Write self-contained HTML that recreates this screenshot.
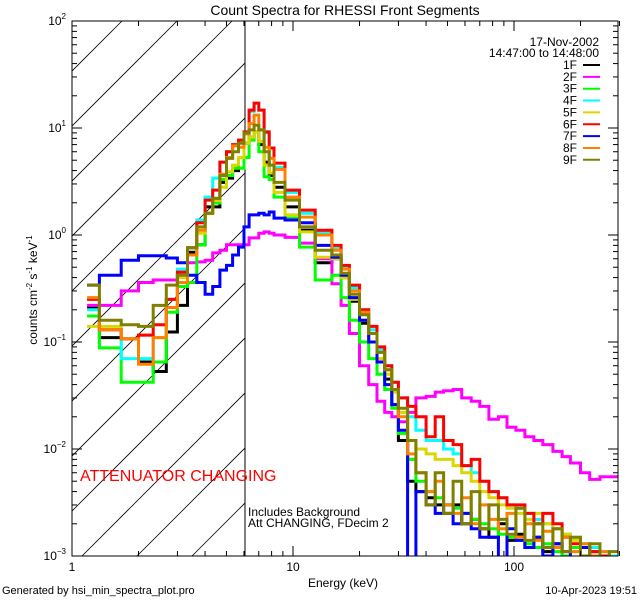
<!DOCTYPE html>
<html><head><meta charset="utf-8"><style>
html,body{margin:0;padding:0;background:#fff;}
svg text{font-family:"Liberation Sans",sans-serif;}
</style></head><body>
<svg id="chart" width="640" height="600" viewBox="0 0 640 600">
<defs><clipPath id="plotclip"><rect x="72" y="21" width="546" height="535"/></clipPath>
<clipPath id="hatchclip"><rect x="72" y="21" width="173" height="535"/></clipPath></defs>
<rect x="0" y="0" width="640" height="600" fill="#fff"/>
<text x="345" y="15" font-size="14" text-anchor="middle">Count Spectra for RHESSI Front Segments</text>
<g id="hatch" clip-path="url(#hatchclip)"></g>
<line x1="245" y1="21" x2="245" y2="556" stroke="#000" stroke-width="1"/>
<g id="series" clip-path="url(#plotclip)"></g>
<rect x="72" y="21" width="546" height="535" fill="none" stroke="#000" stroke-width="1"/>
<g id="axes"></g>
<text transform="translate(37,290) rotate(-90)" font-size="12" text-anchor="middle">counts cm<tspan font-size="8" dy="-5">-2</tspan><tspan dy="5"> s</tspan><tspan font-size="8" dy="-5">-1</tspan><tspan dy="5"> keV</tspan><tspan font-size="8" dy="-5">-1</tspan></text>
<text x="343" y="587" font-size="12" text-anchor="middle">Energy (keV)</text>
<text x="80" y="481" font-size="16" fill="#ff0000">ATTENUATOR CHANGING</text>
<text x="248" y="516" font-size="12">Includes Background</text>
<text x="248" y="527" font-size="12">Att CHANGING, FDecim 2</text>
<text x="599" y="46" font-size="12" text-anchor="end">17-Nov-2002</text>
<text x="599" y="57" font-size="12" text-anchor="end">14:47:00 to 14:48:00</text>
<g id="legend"></g>
<text x="2" y="594" font-size="11">Generated by hsi_min_spectra_plot.pro</text>
<text x="637" y="594" font-size="11" text-anchor="end">10-Apr-2023 19:51</text>
</svg>
<script>
const edges = [1.17,1.33,1.67,2.0,2.33,2.67,3.0,3.33,3.67,4.0,4.33,4.67,5.0,5.33,5.67,6.0,6.33,6.67,7.0,7.4,7.8,8.2,9.2,10.7,12.6,15,16.5,18,20,22,24,26,28,30,33,36,40,44,48,53,58,64,70,77,85,93,102,112,123,135,150,165,180,200,220,245,270,300];
const seriesNames = ["1F","2F","3F","4F","5F","6F","7F","8F","9F"];
const seriesColors = ["#000000","#ff00ff","#00ff00","#00ffff","#d8d800","#ff0000","#0000ff","#ff8000","#808000"];
const s1F = [0.21,0.11,0.107,0.065,0.053,0.124,0.22,0.69,0.81,1.83,1.83,3.1,3.4,4.0,5.3,7.2,8.2,9.2,7.0,4.8,3.6,2.8,1.83,1.11,0.55,
 0.6,0.4,0.24,0.15,0.1,0.065,0.045,0.026,0.012,0.005,0.004,0.0035,0.003,0.0025,0.003,0.002,0.0022,0.0018,0.0015,0.002,0.0014,0.0016,0.0012,0.0015,0.0011,0.0013,0.001,0.0012,0.0009,0.0011,0.0009,0.0008];
const s2F = [0.22,0.22,0.30,0.36,0.38,0.38,0.42,0.55,0.56,0.58,0.68,0.72,0.81,0.81,0.81,0.81,0.94,0.94,1.04,1.07,1.04,1.0,0.95,0.84,0.6,
 0.35,0.22,0.12,0.06,0.04,0.028,0.022,0.02,0.018,0.022,0.03,0.031,0.034,0.035,0.036,0.03,0.028,0.025,0.019,0.02,0.016,0.015,0.013,0.012,0.011,0.0095,0.0085,0.0074,0.006,0.0052,0.0055,0.0055];
const s3F = [0.175,0.088,0.042,0.042,0.065,0.19,0.33,0.36,0.81,1.6,1.99,3.3,3.6,4.2,4.2,5.3,7.7,9.2,6.0,3.5,3.3,2.26,1.44,0.77,0.38,
 0.42,0.26,0.16,0.1,0.07,0.05,0.036,0.024,0.014,0.008,0.005,0.004,0.0035,0.003,0.0028,0.0025,0.0022,0.002,0.0018,0.0016,0.0015,0.0014,0.0013,0.0012,0.0013,0.0011,0.001,0.0012,0.001,0.0009,0.0009,0.0008];
const s4F = [0.20,0.13,0.07,0.07,0.11,0.25,0.48,0.76,1.38,2.26,3.4,4.8,6.0,7.0,7.7,9.0,14.3,17.1,14.7,9.0,6.5,4.3,2.5,1.6,1.05,
 0.75,0.5,0.32,0.2,0.13,0.085,0.06,0.042,0.03,0.02,0.015,0.012,0.012,0.01,0.009,0.007,0.006,0.005,0.004,0.0035,0.003,0.0028,0.0025,0.0022,0.002,0.0018,0.0016,0.0015,0.0013,0.0012,0.0011,0.001];
const s5F = [0.14,0.14,0.107,0.116,0.11,0.21,0.40,0.65,1.04,1.6,2.1,2.8,3.9,4.5,5.3,7.2,8.2,9.2,7.5,4.5,3.8,2.5,1.54,1.07,0.62,
 0.6,0.4,0.25,0.16,0.1,0.07,0.05,0.034,0.022,0.012,0.01,0.009,0.008,0.008,0.007,0.006,0.005,0.004,0.0035,0.003,0.0028,0.0025,0.0022,0.0025,0.002,0.0018,0.0016,0.0014,0.0012,0.0011,0.001,0.0009];
const s6F = [0.25,0.13,0.107,0.116,0.145,0.25,0.45,0.76,1.3,2.12,2.63,4.8,6.0,7.0,7.7,9.2,14.7,17.1,14.7,9.2,6.5,4.7,2.63,1.71,1.11,
 0.8,0.52,0.34,0.2,0.14,0.09,0.06,0.042,0.03,0.025,0.02,0.013,0.02,0.012,0.011,0.007,0.008,0.005,0.004,0.0035,0.003,0.003,0.0025,0.002,0.0025,0.002,0.0015,0.0013,0.0012,0.0011,0.001,0.0009];
const s7F = [0.34,0.42,0.58,0.64,0.64,0.61,0.55,0.42,0.36,0.28,0.33,0.47,0.52,0.65,0.77,1.19,1.54,1.54,1.6,1.54,1.64,1.44,1.38,1.3,0.8,
 0.62,0.42,0.26,0.16,0.1,0.065,0.04,0.026,0.015,0.0008,0.004,0.003,0.0025,0.003,0.002,0.0025,0.0018,0.0015,0.0015,0.0008,0.0018,0.0014,0.0012,0.0015,0.001,0.0013,0.0011,0.0009,0.0012,0.001,0.0009,0.0008];
const s8F = [0.26,0.13,0.107,0.062,0.11,0.21,0.36,0.65,1.11,1.6,2.2,3.7,5.3,6.8,6.6,8.8,11,13.2,9.6,6.6,5.2,4.1,2.26,1.47,1.0,
 0.72,0.48,0.3,0.19,0.12,0.08,0.055,0.036,0.02,0.009,0.006,0.004,0.005,0.003,0.0025,0.0035,0.002,0.003,0.0022,0.0018,0.0025,0.0015,0.002,0.0014,0.0017,0.0012,0.0015,0.0011,0.0013,0.001,0.0011,0.0009];
const s9F = [0.34,0.16,0.145,0.14,0.22,0.34,0.42,0.76,1.19,1.6,2.2,3.6,5.2,6.0,7.2,9.0,9.6,10.6,9.6,6.0,4.5,3.1,2.12,1.19,0.72,
 0.65,0.44,0.28,0.18,0.12,0.08,0.055,0.036,0.024,0.012,0.006,0.003,0.006,0.0025,0.005,0.002,0.004,0.0018,0.003,0.0022,0.0016,0.0028,0.0014,0.002,0.0012,0.0018,0.0011,0.0015,0.001,0.0013,0.0009,0.0011];
const allSeries = [s1F,s2F,s3F,s4F,s5F,s6F,s7F,s8F,s9F];
const xTickLabels = ["1","10","100"];
const xTickValues = [1,10,100];
const yTickExps = [2,1,0,-1,-2,-3];

const NS = "http://www.w3.org/2000/svg";
const X0=72, X1=618, Y0=21, Y1=556;
const xs = e => X0 + 221*Math.log10(e);
const ys = v => 235 - 107*Math.log10(Math.max(v,0.0007));
function mk(tag, attrs, parent){const el=document.createElementNS(NS,tag);for(const k in attrs)el.setAttribute(k,attrs[k]);parent.appendChild(el);return el;}

const hatch=document.getElementById('hatch');
for(let c=-400;c<=900;c+=55){
  const k=158+c;
  const l=mk('line',{x1:k-21, y1:21, x2:k-556, y2:556, stroke:'#000','stroke-width':0.8},hatch);
  
  
}

const axes=document.getElementById('axes');
function tick(x1,y1,x2,y2){const t=mk('line',{x1,y1,x2,y2,stroke:'#000','stroke-width':1},axes);

}
for(let d=0; d<3; d++){
  for(let m=1;m<10;m++){
    const e=Math.pow(10,d)*m; if(e>300) break;
    const x=xs(e); const len=(m===1)?10:5;
    tick(x,Y1,x,Y1-len); tick(x,Y0,x,Y0+len);
  }
}
for(let d=-3; d<2; d++){
  for(let m=1;m<10;m++){
    const v=Math.pow(10,d)*m; const y=ys(v); const len=(m===1)?10:5;
    tick(X0,y,X0+len,y); tick(X1,y,X1-len,y);
  }
}
xTickValues.forEach((v,i)=>{
  const t=mk('text',{x:xs(v),y:571,'font-size':12,'text-anchor':'middle'},axes);
  t.textContent=xTickLabels[i];
  
  
});
yTickExps.forEach(p=>{
  const t=mk('text',{x:66,y:ys(Math.pow(10,p))+4,'font-size':12,'text-anchor':'end'},axes);
  t.innerHTML='10<tspan font-size="8" dy="-6">'+(p<0?'\u2212'+(-p):p)+'</tspan>';
  
  
});

const sg=document.getElementById('series');
allSeries.forEach((vals,si)=>{
  let d='';
  for(let i=0;i<vals.length;i++){
    const xa=xs(edges[i]), xb=xs(edges[i+1]), y=ys(vals[i]);
    d += (i===0?'M':'L')+xa.toFixed(1)+','+y.toFixed(1)+'L'+xb.toFixed(1)+','+y.toFixed(1);
  }
  const p=mk('path',{d,fill:'none',stroke:seriesColors[si],'stroke-width':3,'stroke-linejoin':'miter'},sg);
  
  
});

const lg=document.getElementById('legend');
seriesNames.forEach((n,i)=>{
  const y=65+i*11.85;
  const t=mk('text',{x:577,y:y+4,'font-size':12,'text-anchor':'end'},lg);
  t.textContent=n;
  
  
  const l=mk('line',{x1:583,y1:y,x2:600,y2:y,stroke:seriesColors[i],'stroke-width':2},lg);
  
  
});
</script>
</body></html>
